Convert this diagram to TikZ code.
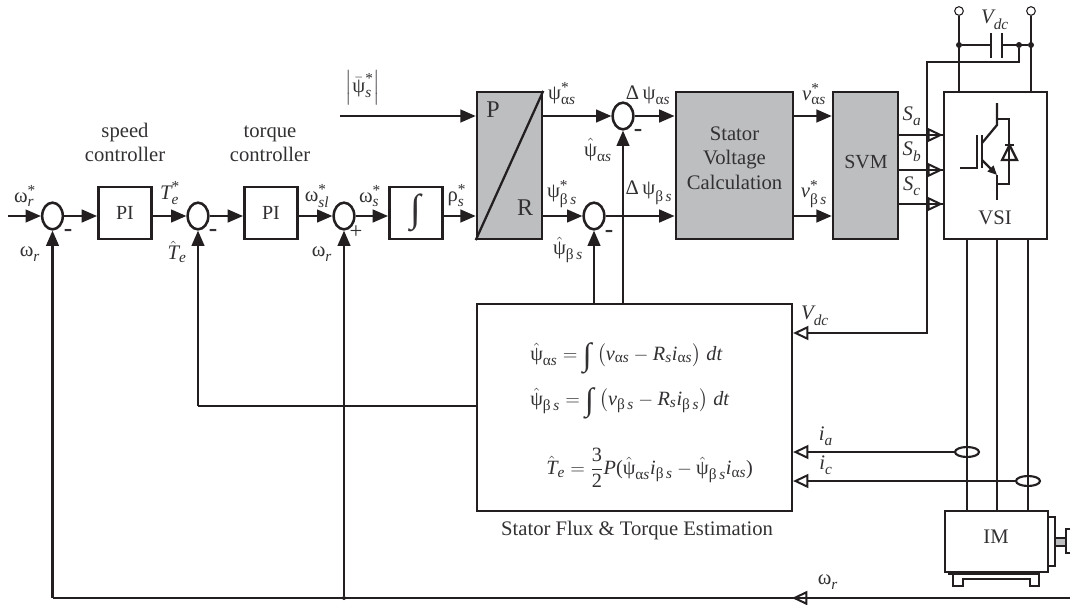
\documentclass[tikz,border=0pt]{standalone}
\usepackage{amsmath}
\usepackage{fontspec}
\setmainfont{Liberation Serif}
\usepackage{tikz}
\usetikzlibrary{arrows.meta,shapes.geometric}
\definecolor{linegray}{HTML}{231F20}
\definecolor{boxgray}{HTML}{BCBEC0}
\definecolor{textgray}{HTML}{333033}
\newcommand{\smallsz}{\fontsize{11.5}{12}\selectfont}
\newcommand{\sym}[3]{\ensuremath{\mbox{#1}_{\mbox{\smallsz #2}}^{\mbox{\smallsz #3}}}}
\newcommand{\hatpsi}{\hat{\mbox{ψ}}}
\newcommand{\as}{{\upshape α}{\itshape s}}
\newcommand{\bs}{{\upshape β}\,{\itshape s}}
\newcommand{\ital}[1]{\mbox{\itshape #1}}
\newcommand{\bigint}[1]{\raisebox{-0.25em}{\fontsize{#1}{#1}\selectfont ∫}}
\tikzset{
  wire/.style={line width=1.7pt,color=linegray},
  thinwire/.style={line width=1.3pt,color=linegray},
  fwd/.style={wire,-{Triangle[length=11.5pt,width=9.5pt]}},
  back/.style={thinwire,-{Triangle[open,length=11.5pt,width=10.5pt,line width=1.5pt]}},
  block/.style={draw=linegray,line width=1.9pt,inner sep=0pt,text=textgray,font=\fontsize{15}{18}\selectfont},
  graybox/.style={block,fill=boxgray},
  summer/.style={draw=linegray,line width=1.9pt,ellipse,inner sep=0pt,minimum width=15.5pt,minimum height=20pt},
  sensor/.style={draw=linegray,line width=1.6pt,ellipse,inner sep=0pt,minimum width=18pt,minimum height=7.5pt},
  term/.style={draw=linegray,line width=0.8pt,circle,inner sep=0pt,minimum size=6.5pt,fill=white},
  junction/.style={fill=linegray,circle,inner sep=0pt,minimum size=4.5pt},
  lab/.style={text=textgray,inner sep=0pt,font=\fontsize{15.5}{18}\selectfont},
  eqn/.style={text=textgray,inner sep=0pt,font=\fontsize{15.2}{18}\selectfont},
}
\begin{document}
\begin{tikzpicture}[x=0.75pt,y=-0.75pt]
\useasboundingbox (0,0) rectangle (1070,604);

% blocks
\node[block,minimum width=40pt,minimum height=39pt] (pione) at (125,213) {PI};
\node[block,minimum width=40pt,minimum height=39pt] (pitwo) at (271,213) {PI};
\node[block,minimum width=40pt,minimum height=39pt] (intg) at (416,213) {\bigint{29}};
\node[graybox,minimum width=48.75pt,minimum height=110pt] (pr) at (509.5,165.5) {};
\node[graybox,minimum width=88pt,minimum height=110pt] (calc) at (734.5,165.5) {};
\node[graybox,minimum width=48.75pt,minimum height=110pt] (svm) at (865.5,165.5) {};
\node[block,minimum width=77pt,minimum height=110pt] (vsi) at (995.5,165.5) {};
\node[block,minimum width=236pt,minimum height=155pt] (est) at (634.5,407.5) {};
\node[block,minimum width=77pt,minimum height=46pt] (im) at (996.5,541.5) {};

% summing points
\node[summer] (sumone) at (52.5,216) {};
\node[summer] (sumtwo) at (198,216) {};
\node[summer] (sumthree) at (344,216) {};
\node[summer] (sumalpha) at (623,116) {};
\node[summer] (sumbeta) at (594,216) {};

% free ends and corners
\coordinate (in) at (8,216);
\coordinate (fluxin) at (340,116);
\coordinate (fbone) at (52.5,598);
\coordinate (fbtwo) at (198,406);
\coordinate (fbend) at (1070,598);
\coordinate (paout) at (542,116);
\coordinate (prout) at (542,216);

% forward path
\draw[fwd] (in) -- (sumone);
\draw[fwd] (sumone) -- (sumone-|pione.west);
\draw[fwd] (sumone-|pione.east) -- (sumtwo);
\draw[fwd] (sumtwo) -- (sumtwo-|pitwo.west);
\draw[fwd] (sumtwo-|pitwo.east) -- (sumthree);
\draw[fwd] (sumthree) -- (sumthree-|intg.west);
\draw[fwd] (sumthree-|intg.east) -- (sumthree-|pr.west);
\draw[fwd] (fluxin) -- (fluxin-|pr.west);
\draw[fwd] (paout) -- (sumalpha);
\draw[fwd] (prout) -- (sumbeta);
\draw[fwd] (sumalpha) -- (sumalpha-|calc.west);
\draw[fwd] (sumbeta) -- (sumbeta-|calc.west);
\draw[fwd] (sumalpha-|calc.east) -- (sumalpha-|svm.west);
\draw[fwd] (sumbeta-|calc.east) -- (sumbeta-|svm.west);

% P/R divider
\draw[wire] (pr.south west) -- (pr.north east);
\node[lab,font=\fontsize{18}{20}\selectfont] (plabel) at (493,110) {P};
\node[lab,font=\fontsize{18}{20}\selectfont] (rlabel) at (525,208) {R};

% feedback
\draw[wire] (fbend) -- (fbone);
\draw[fwd] (fbone) -- (sumone);
\node[junction,minimum size=3pt] (fbdot) at (344,598) {};
\draw[fwd] (fbdot) -- (sumthree);
\draw[fwd] (fbtwo) -- (sumtwo);
\draw[wire] (est.west|-fbtwo) -- (fbtwo);
\draw[fwd] (sumalpha|-est.north) -- (sumalpha);
\draw[fwd] (sumbeta|-est.north) -- (sumbeta);
\coordinate (backtip) at (792,598);
\draw[back] (812,598) -- (backtip);

% switching signals
\foreach \y/\nm in {135/a,170/b,204/c}{
  \coordinate (s\nm) at (vsi.west|-0,\y);
  \draw[thinwire] (svm.east|-0,\y) -- (s\nm);
  \draw[back] (927,\y) -- (s\nm);
}

% DC link
\node[term] (tplus) at (959,11) {};
\node[term] (tminus) at (1031,11) {};
\node[junction] (jplus) at (959,45) {};
\node[junction] (jminus) at (1031,45) {};
\node[junction] (jsense) at (1019,45) {};
\coordinate (platea) at (991,45);
\coordinate (plateb) at (1002,45);
\coordinate (sensecorner) at (1019,62);
\coordinate (senseleft) at (927,62);
\coordinate (sensedown) at (927,333);
\draw[wire] (tplus) -- (tplus|-vsi.north);
\draw[wire] (tminus) -- (tminus|-vsi.north);
\draw[wire] (jplus) -- (platea);
\draw[wire] (plateb) -- (jminus);
\draw[wire] (991,33) -- (991,58);
\draw[wire] (1002,33) -- (1002,58);
\draw[wire] (jsense) -- (sensecorner) -- (senseleft) -- (sensedown) -- (812,333);
\draw[back] (812,333) -- (est.east|-sensedown);

% IGBT and diode
\draw[wire] (997,103) -- (997,125) -- (982,143);
\draw[wire,-{Triangle[length=7pt,width=6pt]}] (982,160) -- (997,175);
\draw[wire] (997,175) -- (997,200);
\draw[wire] (977,135) -- (977,168) -- (960,168);
\draw[wire] (982,135) -- (982,168);
\draw[wire] (997,119) -- (1009,119) -- (1009,184) -- (997,184);
\draw[wire] (1002,160) -- (1017,160) -- (1009.5,145) -- cycle;
\draw[wire] (1005,145) -- (1014,145);

% phase lines and motor
\foreach \x/\nm in {967/pa,997/pb,1028/pc}{
  \draw[wire] (\x,239) -- (\x,511);
}
\node[sensor,fill=none] (ctone) at (967,452) {};
\node[sensor,fill=none] (cttwo) at (1028,481) {};
\draw[back] (ctone.west) -- (est.east|-ctone);
\draw[back] (cttwo.west) -- (est.east|-cttwo);
\node[block,minimum width=5pt,minimum height=36.5pt] (endplate) at (1051.5,541.5) {};
\draw[thinwire,fill=boxgray] (1055,538) rectangle (1066,546);
\draw[wire] (1072,529) -- (1066,529) -- (1066,553) -- (1072,553);
\draw[wire] (953,574) -- (953,586) -- (963,586) -- (963,579) -- (1030,579) -- (1030,586) -- (1039,586) -- (1039,574);
\draw[wire] (948,574) -- (1040,574);

% plain labels
\node[lab,align=center,font=\fontsize{15.5}{18}\selectfont] (speedlab) at (125,142) {speed\\controller};
\node[lab,align=center,font=\fontsize{15.5}{18}\selectfont] (torquelab) at (270,143.5) {torque\\controller};
\node[lab,align=center,font=\fontsize{15.5}{18.5}\selectfont] (calclab) at (734.5,158) {Stator\\Voltage\\Calculation};
\node[lab,font=\fontsize{15}{18}\selectfont] (svmlab) at (866,162) {SVM};
\node[lab] (esttitle) at (637,531) {Stator Flux \& Torque Estimation};
\node[lab] (vsilab) at (995,218) {VSI};
\node[lab] (imlab) at (996,537) {IM};
\foreach \x/\y in {68/233,213/233,638/133,609/234}
  \node[lab,font=\bfseries\fontsize{19}{20}\selectfont] at (\x,\y) {-};
\node[lab,font=\fontsize{17}{18}\selectfont] (pluslab) at (356,232) {+};

% signal labels
\node[lab] (wrefl) at (25,196) {\sym{ω}{\itshape r}{*}};
\node[lab] (wrone) at (30,254) {\sym{ω}{\itshape r}{}};
\node[lab] (teref) at (170,193) {\sym{\itshape T}{\itshape e}{*}};
\node[lab] (tehat) at (177,252) {$\hat{\ital{T}}_{\mbox{\smallsz\itshape e}}$};
\node[lab] (wsl) at (317,196) {\sym{ω}{\itshape sl}{*}};
\node[lab] (ws) at (370,196) {\sym{ω}{\itshape s}{*}};
\node[lab] (wrtwo) at (322,254) {\sym{ω}{\itshape r}{}};
\node[lab] (rhos) at (457,196) {\sym{ρ}{\itshape s}{*}};
\node[lab] (fluxmag) at (363,88) {$\left|\bar{\mbox{ψ}}_{\mbox{\smallsz\itshape s}}^{\mbox{\smallsz *}}\right|$};
\node[lab] (psiaref) at (562,94) {\sym{ψ}{\as}{*}};
\node[lab] (psibref) at (562,194) {\sym{ψ}{\bs}{*}};
\node[lab] (psiahat) at (598,150) {$\hatpsi_{\mbox{\smallsz\as}}$};
\node[lab] (psibhat) at (568,250) {$\hatpsi_{\mbox{\smallsz\bs}}$};
\node[lab] (dpsia) at (648,95) {Δ\,\sym{ψ}{\as}{}};
\node[lab] (dpsib) at (649,193) {Δ\,\sym{ψ}{\bs}{}};
\node[lab] (vaout) at (814,94) {\sym{\itshape v}{\as}{*}};
\node[lab] (vbout) at (814,194) {\sym{\itshape v}{\bs}{*}};
\node[lab] (salab) at (912,116) {\sym{\itshape S}{\itshape a}{}};
\node[lab] (sblab) at (912,152) {\sym{\itshape S}{\itshape b}{}};
\node[lab] (sclab) at (912,186) {\sym{\itshape S}{\itshape c}{}};
\node[lab] (vdctop) at (995,20) {\sym{\itshape V}{\itshape dc}{}};
\node[lab] (vdcest) at (815,316) {\sym{\itshape V}{\itshape dc}{}};
\node[lab] (ialab) at (826,436) {\sym{\itshape i}{\itshape a}{}};
\node[lab] (iclab) at (826,465) {\sym{\itshape i}{\itshape c}{}};
\node[lab] (wrthree) at (828,582) {\sym{ω}{\itshape r}{}};

% estimator equations
\node[eqn,anchor=west] (eqa) at (530,358) {$\hatpsi_{\mbox{\smallsz\as}}=\bigint{24}\;\bigl(\ital{v}_{\mbox{\smallsz\as}}-\ital{R}_{\mbox{\smallsz\itshape s}}\ital{i}_{\mbox{\smallsz\as}}\bigr)\;\ital{dt}$};
\node[eqn,anchor=west] (eqb) at (530,403) {$\hatpsi_{\mbox{\smallsz\bs}}=\bigint{24}\;\bigl(\ital{v}_{\mbox{\smallsz\bs}}-\ital{R}_{\mbox{\smallsz\itshape s}}\ital{i}_{\mbox{\smallsz\bs}}\bigr)\;\ital{dt}$};
\node[eqn,anchor=west] (eqc) at (546,468) {$\hat{\ital{T}}_{\mbox{\smallsz\itshape e}}=\dfrac{\mbox{3}}{\mbox{2}}\ital{P}\mbox{(}\hatpsi_{\mbox{\smallsz\as}}\ital{i}_{\mbox{\smallsz\bs}}-\hatpsi_{\mbox{\smallsz\bs}}\ital{i}_{\mbox{\smallsz\as}}\mbox{)}$};
\end{tikzpicture}
\end{document}
